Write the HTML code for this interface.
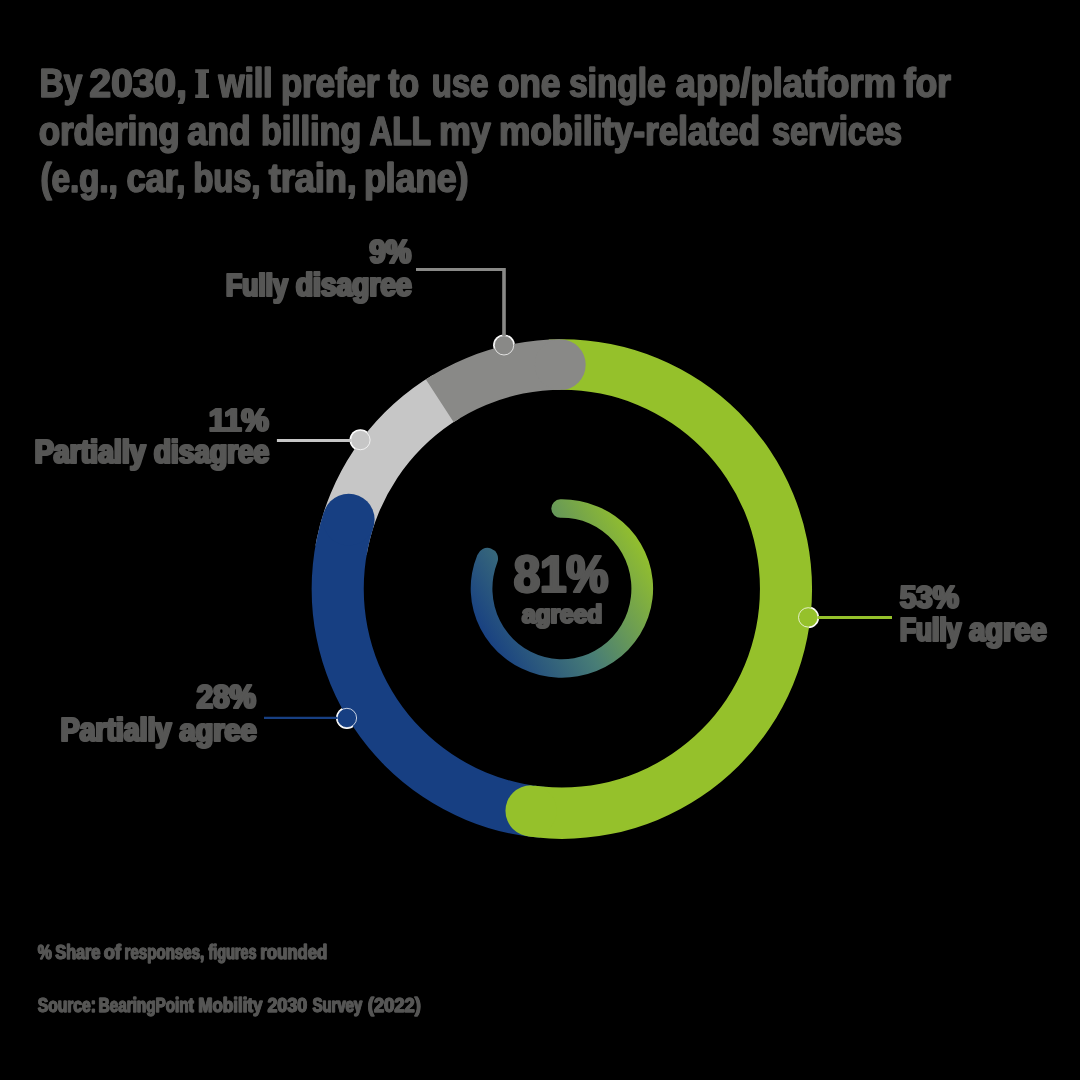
<!DOCTYPE html>
<html lang="en"><head><meta charset="utf-8"><title>Mobility 2030 survey chart</title>
<style>html,body{margin:0;padding:0;background:#000000;}body{width:1080px;height:1080px;overflow:hidden;font-family:"Liberation Sans",sans-serif;}svg{display:block;}</style></head>
<body>
<svg width="1080" height="1080" viewBox="0 0 1080 1080">
<defs><linearGradient id="g" gradientUnits="userSpaceOnUse" x1="646" y1="545" x2="484" y2="641"><stop offset="0" stop-color="#95c12b"/><stop offset="0.55" stop-color="#487d76"/><stop offset="1" stop-color="#173f82"/></linearGradient></defs>
<rect width="1080" height="1080" fill="#000000"/>
<circle cx="504.0" cy="345.3" r="10.9" fill="#ffffff"/>
<circle cx="360.4" cy="440.05" r="10.9" fill="#ffffff"/>
<circle cx="346.9" cy="718.0" r="10.9" fill="#ffffff"/>
<circle cx="808.2" cy="617.4" r="10.9" fill="#ffffff"/>
<clipPath id="ring"><path clip-rule="evenodd" d="M311.65 589.04A250.2 249.8 0 1 0 812.05 589.04A250.2 249.8 0 1 0 311.65 589.04ZM363.75 588.69A198.1 198.9 0 1 0 759.95 588.69A198.1 198.9 0 1 0 363.75 588.69Z"/></clipPath>
<g clip-path="url(#ring)">
<g fill="none" stroke-width="60">
<path d="M341.15 549.94A224.10 224.10 0 0 1 446.43 396.76" stroke="#c6c6c6"/>
<path d="M542.32 812.10A224.10 224.10 0 0 1 348.72 519.60" stroke="#173f82"/>
</g>
<circle cx="348.72" cy="519.60" r="25.9" fill="#173f82"/>
<g fill="none" stroke-width="60">
<path d="M550.12 365.06A224.10 224.10 0 1 1 531.05 810.82" stroke="#95c12b"/>
</g>
<circle cx="531.05" cy="810.82" r="25.6" fill="#95c12b"/>
<g fill="none" stroke-width="60">
<path d="M439.80 400.90A224.10 224.10 0 0 1 560.29 364.76" stroke="#898987"/>
</g>
<circle cx="560.29" cy="364.76" r="25.4" fill="#898987"/>
</g>
<path d="M560.31 499.31A91.2 89.2 0 1 1 477.34 555.09A10.63 10.63 0 0 1 497.46 561.98A69.5 70.8 0 1 0 560.69 517.71A9.20 9.20 0 0 1 560.31 499.31Z" fill="url(#g)"/>
<g stroke="#ffffff" stroke-opacity="0.75" stroke-width="1.0">
<circle cx="504.0" cy="345.3" r="9.7" fill="#898987"/>
<circle cx="360.4" cy="440.05" r="9.7" fill="#c6c6c6"/>
<circle cx="346.9" cy="718.0" r="9.7" fill="#173f82"/>
<circle cx="808.2" cy="617.4" r="9.7" fill="#95c12b"/>
</g>
<g fill="none">
<path d="M416 269.5H504" stroke="#898987" stroke-width="3"/>
<path d="M504 268V336" stroke="#898987" stroke-width="3.6"/>
<path d="M276.9 440.5H351.2" stroke="#c6c6c6" stroke-width="3"/>
<path d="M264 717.9H337.6" stroke="#173f82" stroke-width="2.2"/>
<path d="M817.5 617.5H892" stroke="#95c12b" stroke-width="3"/>
</g>
<g fill="#575756" stroke="#575756" stroke-linejoin="round" opacity="0.999" font-weight="bold" font-family='"Liberation Sans", sans-serif'>
<text font-size="40.14" stroke-width="1.2" transform="translate(39.30 97.20) scale(0.8316 1)">By</text>
<text font-size="40.14" stroke-width="1.2" transform="translate(40.00 97.20) scale(0.8316 1)">By</text>
<text font-size="40.14" stroke-width="1.2" transform="translate(89.01 97.20) scale(0.9711 1)">2030,</text>
<text font-size="40.14" stroke-width="1.2" transform="translate(89.71 97.20) scale(0.9711 1)">2030,</text>
<path stroke="none" d="M195.2 69.2H209V72.9H206V94.4H209V97.9H195.2V94.4H198.2V72.9H195.2Z"/>
<text font-size="40.14" stroke-width="1.2" transform="translate(218.14 97.20) scale(0.8354 1)">will</text>
<text font-size="40.14" stroke-width="1.2" transform="translate(218.84 97.20) scale(0.8354 1)">will</text>
<text font-size="40.14" stroke-width="1.2" transform="translate(280.63 97.20) scale(0.8653 1)">prefer</text>
<text font-size="40.14" stroke-width="1.2" transform="translate(281.33 97.20) scale(0.8653 1)">prefer</text>
<text font-size="40.14" stroke-width="1.2" transform="translate(387.96 97.20) scale(0.8117 1)">to</text>
<text font-size="40.14" stroke-width="1.2" transform="translate(388.66 97.20) scale(0.8117 1)">to</text>
<text font-size="40.14" stroke-width="1.2" transform="translate(431.42 97.20) scale(0.8189 1)">use</text>
<text font-size="40.14" stroke-width="1.2" transform="translate(432.12 97.20) scale(0.8189 1)">use</text>
<text font-size="40.14" stroke-width="1.2" transform="translate(497.67 97.20) scale(0.8746 1)">one</text>
<text font-size="40.14" stroke-width="1.2" transform="translate(498.37 97.20) scale(0.8746 1)">one</text>
<text font-size="40.14" stroke-width="1.2" transform="translate(568.80 97.20) scale(0.8317 1)">single</text>
<text font-size="40.14" stroke-width="1.2" transform="translate(569.50 97.20) scale(0.8317 1)">single</text>
<text font-size="40.14" stroke-width="1.2" transform="translate(675.42 97.20) scale(0.9057 1)">app/platform</text>
<text font-size="40.14" stroke-width="1.2" transform="translate(676.12 97.20) scale(0.9057 1)">app/platform</text>
<text font-size="40.14" stroke-width="1.2" transform="translate(903.47 97.20) scale(0.8787 1)">for</text>
<text font-size="40.14" stroke-width="1.2" transform="translate(904.17 97.20) scale(0.8787 1)">for</text>
<text font-size="40.14" stroke-width="1.2" transform="translate(38.48 144.50) scale(0.8649 1)">ordering</text>
<text font-size="40.14" stroke-width="1.2" transform="translate(39.18 144.50) scale(0.8649 1)">ordering</text>
<text font-size="40.14" stroke-width="1.2" transform="translate(187.12 144.50) scale(0.8871 1)">and</text>
<text font-size="40.14" stroke-width="1.2" transform="translate(187.82 144.50) scale(0.8871 1)">and</text>
<text font-size="40.14" stroke-width="1.2" transform="translate(260.67 144.50) scale(0.8478 1)">billing</text>
<text font-size="40.14" stroke-width="1.2" transform="translate(261.37 144.50) scale(0.8478 1)">billing</text>
<text font-size="40.14" stroke-width="1.2" transform="translate(369.14 144.50) scale(0.7874 1)">ALL</text>
<text font-size="40.14" stroke-width="1.2" transform="translate(369.84 144.50) scale(0.7874 1)">ALL</text>
<text font-size="40.14" stroke-width="1.2" transform="translate(438.80 144.50) scale(0.8865 1)">my</text>
<text font-size="40.14" stroke-width="1.2" transform="translate(439.50 144.50) scale(0.8865 1)">my</text>
<text font-size="40.14" stroke-width="1.2" transform="translate(498.82 144.50) scale(0.8731 1)">mobility-related</text>
<text font-size="40.14" stroke-width="1.2" transform="translate(499.52 144.50) scale(0.8731 1)">mobility-related</text>
<text font-size="40.14" stroke-width="1.2" transform="translate(771.71 144.50) scale(0.8086 1)">services</text>
<text font-size="40.14" stroke-width="1.2" transform="translate(772.41 144.50) scale(0.8086 1)">services</text>
<text font-size="40.14" stroke-width="1.2" transform="translate(40.27 191.90) scale(0.8235 1)">(e.g.,</text>
<text font-size="40.14" stroke-width="1.2" transform="translate(40.97 191.90) scale(0.8235 1)">(e.g.,</text>
<text font-size="40.14" stroke-width="1.2" transform="translate(126.18 191.90) scale(0.8522 1)">car,</text>
<text font-size="40.14" stroke-width="1.2" transform="translate(126.88 191.90) scale(0.8522 1)">car,</text>
<text font-size="40.14" stroke-width="1.2" transform="translate(192.93 191.90) scale(0.8153 1)">bus,</text>
<text font-size="40.14" stroke-width="1.2" transform="translate(193.63 191.90) scale(0.8153 1)">bus,</text>
<text font-size="40.14" stroke-width="1.2" transform="translate(268.58 191.90) scale(0.8952 1)">train,</text>
<text font-size="40.14" stroke-width="1.2" transform="translate(269.28 191.90) scale(0.8952 1)">train,</text>
<text font-size="40.14" stroke-width="1.2" transform="translate(363.70 191.90) scale(0.8830 1)">plane)</text>
<text font-size="40.14" stroke-width="1.2" transform="translate(364.40 191.90) scale(0.8830 1)">plane)</text>
<text font-size="32.29" stroke-width="1.8" transform="translate(368.84 262.68) scale(0.8917 1)">9%</text>
<text font-size="32.29" stroke-width="1.8" transform="translate(370.14 262.68) scale(0.8917 1)">9%</text>
<text font-size="32.29" stroke-width="1.8" transform="translate(225.14 295.68) scale(0.8244 1)">Fully</text>
<text font-size="32.29" stroke-width="1.8" transform="translate(226.44 295.68) scale(0.8244 1)">Fully</text>
<text font-size="32.29" stroke-width="1.8" transform="translate(295.16 295.68) scale(0.8727 1)">disagree</text>
<text font-size="32.29" stroke-width="1.8" transform="translate(296.46 295.68) scale(0.8727 1)">disagree</text>
<text font-size="32.29" stroke-width="1.8" transform="translate(208.21 430.58) scale(0.9536 1)">11%</text>
<text font-size="32.29" stroke-width="1.8" transform="translate(209.51 430.58) scale(0.9536 1)">11%</text>
<text font-size="32.29" stroke-width="1.8" transform="translate(34.08 463.38) scale(0.8829 1)">Partially</text>
<text font-size="32.29" stroke-width="1.8" transform="translate(35.38 463.38) scale(0.8829 1)">Partially</text>
<text font-size="32.29" stroke-width="1.8" transform="translate(153.16 463.38) scale(0.8697 1)">disagree</text>
<text font-size="32.29" stroke-width="1.8" transform="translate(154.46 463.38) scale(0.8697 1)">disagree</text>
<text font-size="32.29" stroke-width="1.8" transform="translate(195.94 707.78) scale(0.9162 1)">28%</text>
<text font-size="32.29" stroke-width="1.8" transform="translate(197.24 707.78) scale(0.9162 1)">28%</text>
<text font-size="32.29" stroke-width="1.8" transform="translate(59.89 740.68) scale(0.8821 1)">Partially</text>
<text font-size="32.29" stroke-width="1.8" transform="translate(61.19 740.68) scale(0.8821 1)">Partially</text>
<text font-size="32.29" stroke-width="1.8" transform="translate(178.73 740.68) scale(0.8987 1)">agree</text>
<text font-size="32.29" stroke-width="1.8" transform="translate(180.03 740.68) scale(0.8987 1)">agree</text>
<text font-size="32.29" stroke-width="1.8" transform="translate(899.14 608.48) scale(0.9131 1)">53%</text>
<text font-size="32.29" stroke-width="1.8" transform="translate(900.44 608.48) scale(0.9131 1)">53%</text>
<text font-size="32.29" stroke-width="1.8" transform="translate(899.15 641.28) scale(0.8165 1)">Fully</text>
<text font-size="32.29" stroke-width="1.8" transform="translate(900.45 641.28) scale(0.8165 1)">Fully</text>
<text font-size="32.29" stroke-width="1.8" transform="translate(968.53 641.28) scale(0.9010 1)">agree</text>
<text font-size="32.29" stroke-width="1.8" transform="translate(969.83 641.28) scale(0.9010 1)">agree</text>
<text font-size="50.99" stroke-width="2.0" transform="translate(513.31 591.69) scale(0.9248 1)">81%</text>
<text font-size="50.99" stroke-width="2.0" transform="translate(514.51 591.69) scale(0.9248 1)">81%</text>
<text font-size="25.14" stroke-width="1.9" transform="translate(521.53 622.50) scale(0.9721 1)">agreed</text>
<text font-size="25.14" stroke-width="1.9" transform="translate(522.53 622.50) scale(0.9721 1)">agreed</text>
<text font-size="19.86" stroke-width="1.0" transform="translate(37.48 959.30) scale(0.7942 1)">%</text>
<text font-size="19.86" stroke-width="1.0" transform="translate(38.08 959.30) scale(0.7942 1)">%</text>
<text font-size="19.86" stroke-width="1.0" transform="translate(55.08 959.30) scale(0.8159 1)">Share</text>
<text font-size="19.86" stroke-width="1.0" transform="translate(55.68 959.30) scale(0.8159 1)">Share</text>
<text font-size="19.86" stroke-width="1.0" transform="translate(103.61 959.30) scale(0.9022 1)">of</text>
<text font-size="19.86" stroke-width="1.0" transform="translate(104.21 959.30) scale(0.9022 1)">of</text>
<text font-size="19.86" stroke-width="1.0" transform="translate(124.27 959.30) scale(0.7593 1)">responses,</text>
<text font-size="19.86" stroke-width="1.0" transform="translate(124.87 959.30) scale(0.7593 1)">responses,</text>
<text font-size="19.86" stroke-width="1.0" transform="translate(208.22 959.30) scale(0.7256 1)">figures</text>
<text font-size="19.86" stroke-width="1.0" transform="translate(208.82 959.30) scale(0.7256 1)">figures</text>
<text font-size="19.86" stroke-width="1.0" transform="translate(260.12 959.30) scale(0.8420 1)">rounded</text>
<text font-size="19.86" stroke-width="1.0" transform="translate(260.72 959.30) scale(0.8420 1)">rounded</text>
<text font-size="19.86" stroke-width="1.0" transform="translate(37.48 1011.50) scale(0.7869 1)">Source:</text>
<text font-size="19.86" stroke-width="1.0" transform="translate(38.08 1011.50) scale(0.7869 1)">Source:</text>
<text font-size="19.86" stroke-width="1.0" transform="translate(98.37 1011.50) scale(0.7695 1)">BearingPoint</text>
<text font-size="19.86" stroke-width="1.0" transform="translate(98.97 1011.50) scale(0.7695 1)">BearingPoint</text>
<text font-size="19.86" stroke-width="1.0" transform="translate(198.11 1011.50) scale(0.8545 1)">Mobility</text>
<text font-size="19.86" stroke-width="1.0" transform="translate(198.71 1011.50) scale(0.8545 1)">Mobility</text>
<text font-size="19.86" stroke-width="1.0" transform="translate(267.21 1011.50) scale(0.8982 1)">2030</text>
<text font-size="19.86" stroke-width="1.0" transform="translate(267.81 1011.50) scale(0.8982 1)">2030</text>
<text font-size="19.86" stroke-width="1.0" transform="translate(312.28 1011.50) scale(0.7487 1)">Survey</text>
<text font-size="19.86" stroke-width="1.0" transform="translate(312.88 1011.50) scale(0.7487 1)">Survey</text>
<text font-size="19.86" stroke-width="1.0" transform="translate(367.53 1011.50) scale(0.9232 1)">(2022)</text>
<text font-size="19.86" stroke-width="1.0" transform="translate(368.13 1011.50) scale(0.9232 1)">(2022)</text>
</g>
</svg>
</body></html>
